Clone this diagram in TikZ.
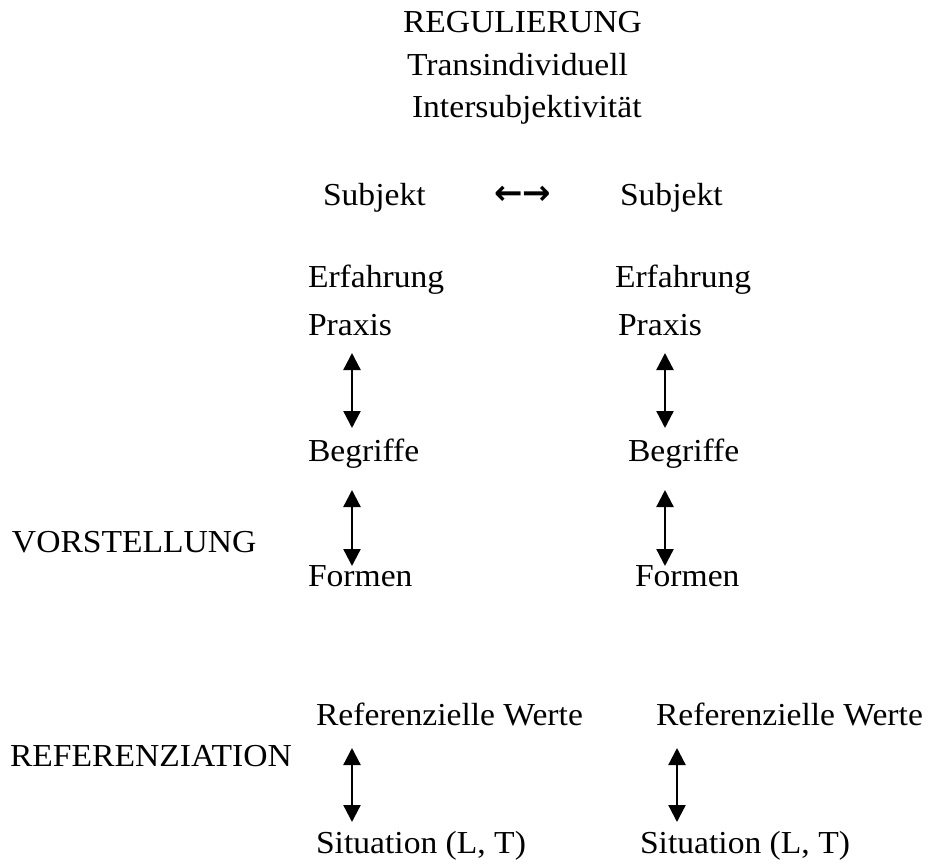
\documentclass[tikz,border=0pt]{standalone}
\usepackage{fontspec}
\setmainfont[FakeStretch=1.05]{Liberation Serif}
\newfontfamily\arrowfont{DejaVu Sans}
\usetikzlibrary{arrows.meta}
\tikzset{
  lbl/.style={anchor=base west, inner sep=0pt, outer sep=0pt, font=\fontsize{32}{38}\selectfont},
  vlink/.style={{Triangle[width=17pt,length=17pt]}-{Triangle[width=17pt,length=17pt]}, line width=2.3pt}
}
\begin{document}
\begin{tikzpicture}[x=1pt,y=-1pt]
\useasboundingbox (0,0) rectangle (935,863);
% top
\node[lbl] (reg) at (403,32) {REGULIERUNG};
\node[lbl] (trans) at (407,75) {Transindividuell};
\node[lbl] (inter) at (412,117) {Intersubjektivität};
% subjects
\node[lbl] (subjL) at (323,205) {Subjekt};
\node[lbl, font=\arrowfont\bfseries\fontsize{34}{40}\selectfont] (bidir) at (494,204) {←→};
\node[lbl] (subjR) at (620,205) {Subjekt};
% left column
\node[lbl] (erfL) at (308,287) {Erfahrung};
\node[lbl] (praL) at (308,335) {Praxis};
\node[lbl] (begL) at (308,461) {Begriffe};
\node[lbl] (forL) at (308,586) {Formen};
% right column
\node[lbl] (erfR) at (615,287) {Erfahrung};
\node[lbl] (praR) at (618,335) {Praxis};
\node[lbl] (begR) at (628,461) {Begriffe};
\node[lbl] (forR) at (635,586) {Formen};
% side labels
\node[lbl] (vor) at (12,552) {VORSTELLUNG};
\node[lbl] (refz) at (10,766) {REFERENZIATION};
% bottom
\node[lbl] (refL) at (316,725) {Referenzielle Werte};
\node[lbl] (refR) at (656,725) {Referenzielle Werte};
\node[lbl] (sitL) at (316,853) {Situation (L, T)};
\node[lbl] (sitR) at (640,853) {Situation (L, T)};
% arrow end points
\coordinate (a1t) at (352,353); \coordinate (a1b) at (352,428);
\coordinate (a2t) at (352,490); \coordinate (a2b) at (352,566);
\coordinate (a3t) at (352,748); \coordinate (a3b) at (352,822);
\coordinate (b1t) at (665,353); \coordinate (b1b) at (665,428);
\coordinate (b2t) at (665,490); \coordinate (b2b) at (665,566);
\coordinate (b3t) at (677,748); \coordinate (b3b) at (677,822);
\draw[vlink] (a1t) -- (a1b);
\draw[vlink] (a2t) -- (a2b);
\draw[vlink] (a3t) -- (a3b);
\draw[vlink] (b1t) -- (b1b);
\draw[vlink] (b2t) -- (b2b);
\draw[vlink] (b3t) -- (b3b);
\end{tikzpicture}
\end{document}
